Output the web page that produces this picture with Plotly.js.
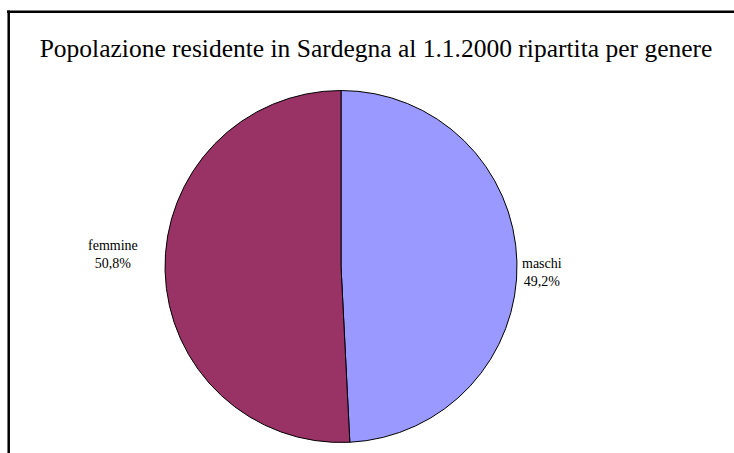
<!DOCTYPE html>
<html><head><meta charset="utf-8">
<script src="https://cdn.plot.ly/plotly-3.0.1.min.js"></script>
<style>html,body{margin:0;padding:0;background:#fff}#chart{width:734px;height:453px}</style>
</head><body><div id="chart"></div>
<script>
const titleText = 'Popolazione residente in Sardegna al 1.1.2000 ripartita per genere';
const categories = ['maschi', 'femmine'];
const values = [49.2, 50.8];
const colors = ['#9999FF', '#993366'];

const W = 734, H = 453;
const cx = 341, cy = 266.5, r = 176;
const FONT = '"Liberation Serif", "Times New Roman", Times, serif';
const fmt = v => v.toFixed(1).replace('.', ',') + '%';

const trace = {
  type: 'pie',
  labels: categories,
  values: values,
  sort: false,
  direction: 'clockwise',
  rotation: 0,
  marker: {colors: colors, line: {color: '#000', width: 1}},
  textinfo: 'none',
  hoverinfo: 'label+percent',
  showlegend: false,
  domain: {x: [(cx - r) / W, (cx + r) / W], y: [(H - cy - r) / H, (H - cy + r) / H]}
};

const labelPos = {maschi: [542, 272], femmine: [113, 254]};
const annotations = categories.map((c, i) => ({
  xref: 'paper', yref: 'paper',
  x: labelPos[c][0] / W, y: 1 - labelPos[c][1] / H,
  xanchor: 'center', yanchor: 'middle',
  text: c + '<br>' + fmt(values[i]),
  showarrow: false,
  font: {family: FONT, size: 14, color: '#000'}
}));

const layout = {
  width: W, height: H,
  margin: {l: 0, r: 0, t: 0, b: 0},
  paper_bgcolor: '#fff',
  title: {
    text: titleText,
    x: 376 / W, xanchor: 'center', xref: 'paper',
    y: 1 - 48 / H, yanchor: 'middle', yref: 'paper',
    font: {family: FONT, size: 25.5, color: '#000'}
  },
  annotations: annotations,
  shapes: [
    {type: 'line', xref: 'paper', yref: 'paper', x0: 7 / W, x1: 1, y0: 1 - 11.8 / H, y1: 1 - 11.8 / H, line: {color: '#000', width: 2.5}},
    {type: 'line', xref: 'paper', yref: 'paper', x0: 8.7 / W, x1: 8.7 / W, y0: 1 - 10.5 / H, y1: 0, line: {color: '#000', width: 2.5}}
  ]
};

Plotly.newPlot('chart', [trace], layout, {displayModeBar: false, staticPlot: true});
</script></body></html>
